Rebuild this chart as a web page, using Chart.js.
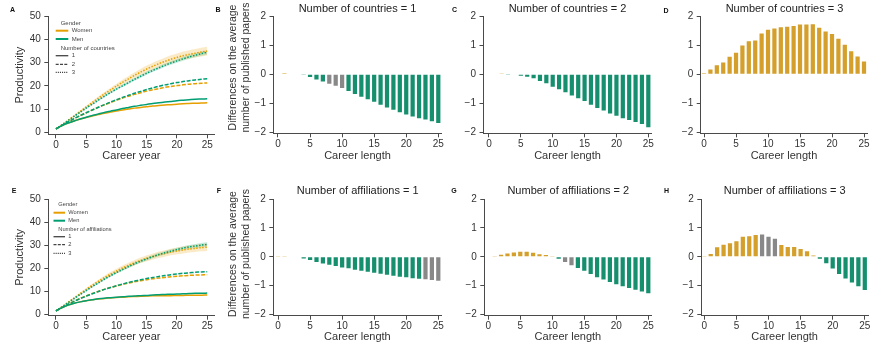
<!DOCTYPE html>
<html><head><meta charset="utf-8">
<script src="https://cdn.jsdelivr.net/npm/chart.js@4.4.1/dist/chart.umd.min.js"></script>
<style>
html,body{margin:0;padding:0;background:#fff;width:870px;height:348px;overflow:hidden;position:relative;}
canvas{position:absolute;}
</style></head><body>
<script>
// ---------------- DATA ----------------
const careerYears = [0,1,2,3,4,5,6,7,8,9,10,11,12,13,14,15,16,17,18,19,20,21,22,23,24,25];
const xTicks = [0,5,10,15,20,25];
const prodTicks = [0,10,20,30,40,50];
const diffTicks = [-2,-1,0,1,2];

// Panel A: productivity by number of countries
const cW1 = [1.5,2.9,4.0,4.9,5.7,6.4,7.0,7.6,8.2,8.7,9.2,9.6,10.0,10.4,10.7,11.0,11.3,11.5,11.7,11.9,12.1,12.3,12.4,12.5,12.6,12.7];
const cM1 = [1.5,2.9,4.0,4.9,5.7,6.5,7.2,7.9,8.5,9.1,9.6,10.2,10.7,11.2,11.6,12.0,12.4,12.7,13.0,13.3,13.6,13.8,14.0,14.2,14.3,14.4];
const cW2 = [1.5,3.0,4.5,5.9,7.2,8.4,9.6,10.7,11.8,12.8,13.8,14.7,15.5,16.3,17.0,17.7,18.3,18.8,19.3,19.7,20.1,20.4,20.7,20.9,21.1,21.2];
const cM2 = [1.5,3.0,4.5,5.9,7.2,8.4,9.6,10.8,11.9,13.0,14.0,15.0,15.9,16.8,17.6,18.4,19.1,19.8,20.4,20.9,21.4,21.8,22.2,22.5,22.8,23.0];
const cW3 = [1.5,3.3,5.2,7.1,9.0,10.9,12.8,14.7,16.5,18.2,19.9,21.5,23.0,24.5,25.9,27.2,28.4,29.5,30.5,31.4,32.2,32.9,33.5,34.0,34.5,34.9];
const cM3 = [1.5,3.2,5.0,6.8,8.6,10.4,12.1,13.8,15.5,17.1,18.6,20.0,21.4,22.8,24.1,25.4,26.6,27.7,28.8,29.8,30.7,31.6,32.4,33.1,33.8,34.4];
const cW3ci = [0,0.1,0.2,0.3,0.4,0.5,0.6,0.7,0.8,0.9,1.0,1.1,1.2,1.3,1.4,1.5,1.5,1.6,1.6,1.7,1.7,1.8,1.8,1.8,1.9,1.9];
const cM3ci = [0,0.05,0.1,0.15,0.2,0.25,0.3,0.35,0.4,0.45,0.5,0.55,0.6,0.6,0.65,0.7,0.7,0.75,0.75,0.8,0.8,0.8,0.85,0.85,0.9,0.9];

// Panel E: productivity by number of affiliations
const aW1 = [1.5,2.9,4.0,4.8,5.4,5.9,6.3,6.6,6.9,7.1,7.3,7.4,7.6,7.7,7.8,7.9,8.0,8.0,8.1,8.1,8.2,8.2,8.3,8.3,8.3,8.4];
const aM1 = [1.5,2.9,4.0,4.8,5.4,5.9,6.3,6.7,7.0,7.2,7.4,7.6,7.8,7.9,8.1,8.2,8.4,8.5,8.6,8.7,8.8,8.9,9.0,9.1,9.1,9.2];
const aW2 = [1.5,3.0,4.4,5.7,6.9,8.0,9.0,9.9,10.8,11.6,12.3,13.0,13.6,14.1,14.6,15.0,15.4,15.7,16.0,16.3,16.5,16.7,16.9,17.0,17.1,17.2];
const aM2 = [1.5,2.9,4.3,5.6,6.8,7.9,8.9,9.9,10.8,11.6,12.4,13.1,13.8,14.4,15.0,15.5,16.0,16.4,16.8,17.2,17.5,17.8,18.0,18.2,18.4,18.5];
const aW3 = [1.5,3.3,5.2,7.1,9.0,10.8,12.6,14.3,15.9,17.4,18.8,20.1,21.3,22.4,23.4,24.3,25.1,25.8,26.4,27.0,27.5,27.9,28.3,28.6,28.9,29.1];
const aM3 = [1.5,3.2,5.0,6.8,8.6,10.3,12.0,13.6,15.2,16.7,18.1,19.4,20.7,21.9,23.0,24.0,25.0,25.9,26.7,27.4,28.1,28.7,29.2,29.6,30.0,30.3];
const aW3ci = [0,0.1,0.2,0.3,0.4,0.5,0.6,0.7,0.8,0.9,1.0,1.1,1.1,1.2,1.2,1.3,1.3,1.4,1.4,1.4,1.5,1.5,1.5,1.6,1.6,1.6];
const aM3ci = [0,0.05,0.1,0.15,0.2,0.25,0.3,0.35,0.4,0.45,0.5,0.55,0.6,0.6,0.65,0.7,0.7,0.75,0.75,0.8,0.8,0.8,0.85,0.85,0.9,0.9];

// Differences (women - men) in average number of published papers
const diffC1 = [0,0.03,0,0,-0.01,-0.10,-0.18,-0.25,-0.33,-0.40,-0.47,-0.58,-0.68,-0.77,-0.86,-0.95,-1.05,-1.14,-1.22,-1.31,-1.38,-1.45,-1.51,-1.56,-1.62,-1.68];
const diffC2 = [0,0,0.01,-0.01,-0.02,-0.05,-0.09,-0.14,-0.23,-0.31,-0.43,-0.52,-0.62,-0.73,-0.83,-0.92,-1.05,-1.16,-1.25,-1.35,-1.43,-1.51,-1.57,-1.64,-1.71,-1.82];
const diffC3 = [0.03,0.16,0.31,0.40,0.60,0.74,0.99,1.13,1.16,1.40,1.53,1.57,1.61,1.63,1.66,1.71,1.71,1.72,1.60,1.47,1.38,1.22,1.01,0.79,0.61,0.44];
const diffA1 = [0.03,0.03,0,0,-0.06,-0.11,-0.18,-0.23,-0.28,-0.32,-0.37,-0.40,-0.45,-0.48,-0.52,-0.55,-0.59,-0.62,-0.66,-0.69,-0.71,-0.74,-0.76,-0.78,-0.80,-0.83];
const diffA2 = [0,0.03,0.07,0.11,0.15,0.17,0.17,0.14,0.09,0.06,0.03,-0.07,-0.18,-0.29,-0.39,-0.48,-0.60,-0.71,-0.79,-0.87,-0.95,-1.02,-1.08,-1.14,-1.20,-1.26];
const diffA3 = [0.03,0.10,0.33,0.42,0.47,0.54,0.69,0.71,0.75,0.77,0.69,0.62,0.41,0.34,0.34,0.27,0.19,0.04,-0.07,-0.22,-0.41,-0.60,-0.75,-0.89,-1.02,-1.15];
// career lengths where the difference is not significant (grey bars)
const nsC1 = [8,9,10];
const nsC2 = [];
const nsC3 = [];
const nsA1 = [23,24,25];
const nsA2 = [12,13];
const nsA3 = [9,10,11];

// ---------------- STYLE ----------------
const FONT = '"Liberation Sans", Arial, Helvetica, sans-serif';
Chart.defaults.font.family = FONT;
Chart.defaults.color = '#333';
const ORANGE = '#E69F00', GREEN = '#009E73';
const ORANGE_BAND = 'rgba(230,159,0,0.22)', GREEN_BAND = 'rgba(0,158,115,0.22)';
const BAR_ORANGE = '#D49F2B', BAR_GREEN = '#168F6E', BAR_GRAY = '#888888';
const AXIS = '#4a4a4a';

const geo = {
  A:{left:0,  top:0,  w:220,h:170,L:48.3, R:214.5,T:16, B:134.3},
  B:{left:212,top:0,  w:238,h:170,L:273.5,R:441.5,T:16, B:133.3},
  C:{left:440,top:0,  w:220,h:170,L:483.5,R:651.5,T:16, B:133.3},
  D:{left:660,top:0,  w:210,h:170,L:700.7,R:867.2,T:16, B:133.3},
  E:{left:0,  top:170,w:220,h:178,L:48.3, R:214.5,T:199,B:315.7},
  F:{left:212,top:170,w:238,h:178,L:273.3,R:441.5,T:199,B:315.7},
  G:{left:440,top:170,w:220,h:178,L:484.3,R:651.5,T:199,B:315.7},
  H:{left:660,top:170,w:210,h:178,L:701.3,R:868,  T:199,B:315.7}
};

const annot = {
  id:'annot',
  afterDraw(chart, args, o){
    const ctx = chart.ctx, ox = o.ox||0, oy = o.oy||0;
    (o.lines||[]).forEach(l=>{
      ctx.save(); ctx.beginPath(); ctx.strokeStyle=l.color; ctx.lineWidth=l.width;
      ctx.setLineDash(l.dash||[]); ctx.moveTo(l.x1-ox,l.y-oy); ctx.lineTo(l.x2-ox,l.y-oy); ctx.stroke(); ctx.restore();
    });
    (o.texts||[]).forEach(t=>{
      ctx.save(); ctx.font=t.font; ctx.fillStyle=t.color||'#333';
      ctx.textAlign=t.align||'left'; ctx.textBaseline='middle';
      ctx.translate(t.x-ox,t.y-oy); if(t.rot) ctx.rotate(t.rot);
      ctx.fillText(t.text,0,0); ctx.restore();
    });
  }
};
Chart.register(annot);

function makeCanvas(g){
  const c=document.createElement('canvas');
  c.width=g.w; c.height=g.h;
  c.style.left=g.left+'px'; c.style.top=g.top+'px';
  c.style.width=g.w+'px'; c.style.height=g.h+'px';
  document.body.appendChild(c);
  return c;
}

function fixX(size){ return s=>{ s.height=size; s.paddingLeft=s.paddingRight=s.paddingTop=s.paddingBottom=0; }; }
function fixY(size){ return s=>{ s.width=size; s.paddingLeft=s.paddingRight=s.paddingTop=s.paddingBottom=0; }; }
function setTicks(vals){ return s=>{ s.ticks = vals.map(v=>({value:v})); }; }

function scalesFor(g, xmin, xmax, ymin, ymax, yTickVals, xTitlePad, yTitle){
  const gridX = {display:true, drawOnChartArea:false, drawTicks:true, tickLength:4, color:AXIS, lineWidth:1, offset:false};
  const gridY = {display:true, drawOnChartArea:false, drawTicks:true, tickLength:4, color:AXIS, lineWidth:1};
  return {
    x:{type:'linear', min:xmin, max:xmax, offset:false, grid:gridX, border:{display:true,color:AXIS,width:1},
       ticks:{font:{size:10}, color:'#333', padding:1, maxRotation:0},
       afterBuildTicks:setTicks(xTicks), afterFit:fixX(g.top+g.h-g.B),
       title:{display:true, text:g.xTitle, font:{size:11}, color:'#333', padding:{top:0,bottom:xTitlePad}}},
    y:{type:'linear', min:ymin, max:ymax, grid:gridY, border:{display:true,color:AXIS,width:1},
       ticks:{font:{size:10}, color:'#333', padding:3.5, callback:v=>String(v).replace('-','\u2212')},
       afterBuildTicks:setTicks(yTickVals), afterFit:fixY(g.L-g.left),
       title:yTitle ? {display:true, text:yTitle, font:{size:11}, color:'#333', padding:{top:13.4,bottom:0}} : {display:false}}
  };
}

function baseOptions(g, annotOpts){
  return {
    responsive:false, animation:false, devicePixelRatio:1,
    layout:{padding:{left:0, top:g.T-g.top, right:g.left+g.w-g.R, bottom:0}},
    plugins:{legend:{display:false}, tooltip:{enabled:false}, filler:{drawTime:'beforeDatasetsDraw'},
      annot:Object.assign({ox:g.left, oy:g.top}, annotOpts)},
    events:[]
  };
}

function pts(vals){ return careerYears.map((x,i)=>({x, y:vals[i]})); }
function band(mean, ci, sign){ return careerYears.map((x,i)=>({x, y: mean[i] + sign*ci[i]})); }

function lineChart(key, W1,M1,W2,M2,W3,M3,W3ci,M3ci, ymin, legendTitle, leg, letter){
  const g = geo[key]; g.xTitle = 'Career year';
  const line = (data,color,dash,order)=>({data:pts(data), borderColor:color, borderWidth:1.5, borderDash:dash,
      pointRadius:0, fill:false, tension:0.3, order});
  const ds = [
    {data:band(W3,W3ci,1), borderWidth:0, pointRadius:0, backgroundColor:ORANGE_BAND, fill:'+1', order:5, tension:0.3},
    {data:band(W3,W3ci,-1), borderWidth:0, pointRadius:0, fill:false, order:5, tension:0.3},
    {data:band(M3,M3ci,1), borderWidth:0, pointRadius:0, backgroundColor:GREEN_BAND, fill:'+1', order:5, tension:0.3},
    {data:band(M3,M3ci,-1), borderWidth:0, pointRadius:0, fill:false, order:5, tension:0.3},
    line(W1,ORANGE,[],2), line(W2,ORANGE,[4,1.6],2), line(W3,ORANGE,[1.5,1.5],2),
    line(M1,GREEN,[],1), line(M2,GREEN,[4,1.6],1), line(M3,GREEN,[1.5,1.5],1)
  ];
  const lf = leg.size+'px '+FONT;
  const annotOpts = {
    texts:[
      {text:letter.t, x:letter.x, y:letter.y, font:'bold 7px '+FONT, color:'#111', align:'center'},
      {text:'Gender', x:leg.hx, y:leg.y[0], font:lf, color:'#444'},
      {text:'Women', x:leg.tx, y:leg.y[1], font:lf, color:'#444'},
      {text:'Men', x:leg.tx, y:leg.y[2], font:lf, color:'#444'},
      {text:legendTitle, x:leg.hx, y:leg.y[3], font:lf, color:'#444'},
      {text:'1', x:leg.tx, y:leg.y[4], font:lf, color:'#444'},
      {text:'2', x:leg.tx, y:leg.y[5], font:lf, color:'#444'},
      {text:'3', x:leg.tx, y:leg.y[6], font:lf, color:'#444'}
    ],
    lines:[
      {x1:leg.lx1, x2:leg.lx2, y:leg.y[1], color:ORANGE, width:2},
      {x1:leg.lx1, x2:leg.lx2, y:leg.y[2], color:GREEN, width:2},
      {x1:leg.lx1, x2:leg.lx2, y:leg.y[4], color:'#444', width:1.3},
      {x1:leg.lx1, x2:leg.lx2, y:leg.y[5], color:'#444', width:1.3, dash:[3,1.3]},
      {x1:leg.lx1, x2:leg.lx2, y:leg.y[6], color:'#444', width:1.3, dash:[1.1,1]}
    ]
  };
  const opts = baseOptions(g, annotOpts);
  opts.scales = scalesFor(g, -1.27, 26.2, ymin, 50, prodTicks, key==='A'?7.4:4.1, 'Productivity');
  new Chart(makeCanvas(g), {type:'line', data:{datasets:ds}, options:opts});
}

function barChart(key, vals, ns, title, titleX, titleY, xmin, ymin, letter, ylab){
  const g = geo[key]; g.xTitle = 'Career length';
  const colors = vals.map((v,i)=> ns.includes(i) ? BAR_GRAY : (v>=0 ? BAR_ORANGE : BAR_GREEN));
  const texts = [
    {text:title, x:titleX, y:titleY, font:'11px '+FONT, color:'#222', align:'center'},
    {text:letter.t, x:letter.x, y:letter.y, font:'bold 7px '+FONT, color:'#111', align:'center'}
  ];
  if (ylab){
    texts.push({text:'Differences on the average', x:ylab.x1, y:ylab.y, font:'10.5px '+FONT, color:'#333', align:'center', rot:-Math.PI/2});
    texts.push({text:'number of published papers', x:ylab.x2, y:ylab.y, font:'10.5px '+FONT, color:'#333', align:'center', rot:-Math.PI/2});
  }
  const opts = baseOptions(g, {texts});
  opts.scales = scalesFor(g, xmin, 25.5, ymin, 2, diffTicks, g.top===0?7.4:4.1, null);
  new Chart(makeCanvas(g), {type:'bar',
    data:{datasets:[{data:pts(vals), backgroundColor:colors, borderWidth:0, barPercentage:0.66, categoryPercentage:1}]},
    options:opts});
}

// Row 1 (countries)
lineChart('A', cW1,cM1,cW2,cM2,cW3,cM3,cW3ci,cM3ci, -0.85, 'Number of countries',
  {size:6, hx:60.7, tx:71.7, lx1:55.7, lx2:68.3, y:[23,30.7,39,48,55.7,64.3,72.3]},
  {t:'A', x:12.5, y:10.5});
barChart('B', diffC1, nsC1, 'Number of countries = 1', 357.5, 9.3, -0.70, -2.03, {t:'B',x:218,y:10.5}, {x1:233.5,x2:246,y:67.5});
barChart('C', diffC2, nsC2, 'Number of countries = 2', 567.5, 9.3, -0.86, -2.03, {t:'C',x:454.5,y:10.5}, null);
barChart('D', diffC3, nsC3, 'Number of countries = 3', 784.5, 9.3, -0.52, -2.03, {t:'D',x:666,y:11}, null);

// Row 2 (affiliations)
lineChart('E', aW1,aM1,aW2,aM2,aW3,aM3,aW3ci,aM3ci, -0.6, 'Number of affiliations',
  {size:5.7, hx:58.3, tx:68.3, lx1:53.5, lx2:65, y:[204.3,212.7,220.7,229,236.7,244.7,253.3]},
  {t:'E', x:14, y:191.5});
barChart('F', diffA1, nsA1, 'Number of affiliations = 1', 357.7, 191.3, -0.74, -2.04, {t:'F',x:219,y:191.5}, {x1:233.5,x2:246,y:254});
barChart('G', diffA2, nsA2, 'Number of affiliations = 2', 568.3, 191.3, -0.62, -2.04, {t:'G',x:454,y:191.5}, null);
barChart('H', diffA3, nsA3, 'Number of affiliations = 3', 784.7, 191.3, -0.47, -2.04, {t:'H',x:666.5,y:191.5}, null);
</script>
</body></html>
